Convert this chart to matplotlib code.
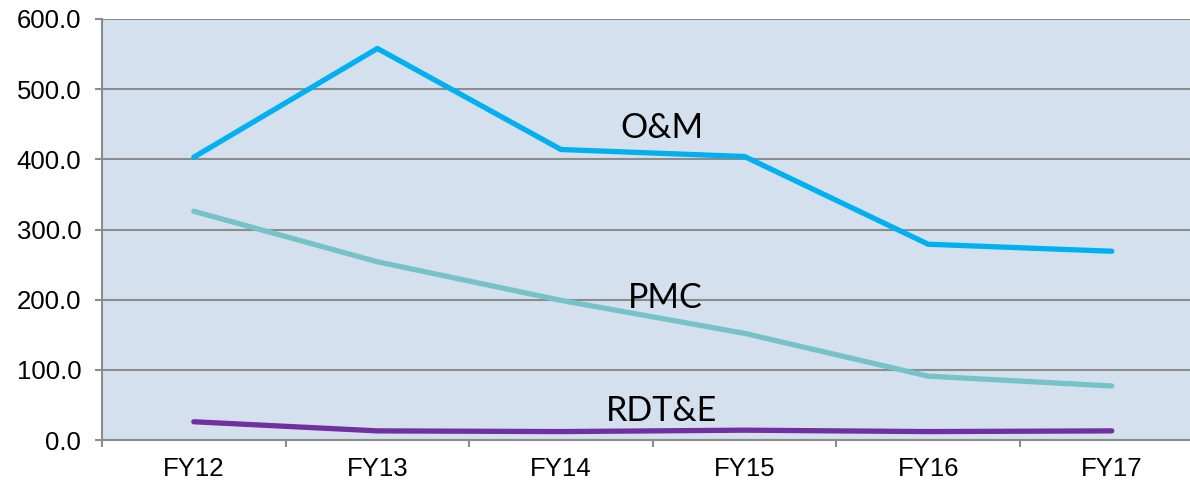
import matplotlib
matplotlib.use("Agg")
import matplotlib.pyplot as plt
import numpy as np

categories = ["FY12", "FY13", "FY14", "FY15", "FY16", "FY17"]
om = [403, 558, 414, 404, 279, 269]
pmc = [326, 254, 199, 152, 91, 77]
rdte = [26, 13, 12, 14, 12, 13]
yticks = [0, 100, 200, 300, 400, 500, 600]

W, H = 1190, 487
fig = plt.figure(figsize=(W / 100, H / 100), dpi=100)
left, right, top, bottom = 102, 1203.6, 19, 440
ax = fig.add_axes([left / W, 1 - bottom / H, (right - left) / W, (bottom - top) / H])
ax.set_facecolor("#D5E0EE")

x = np.arange(len(categories))
ax.plot(x, om, color="#00B0F0", lw=3.8, solid_capstyle="round", zorder=3)
ax.plot(x, pmc, color="#76C3C7", lw=3.8, solid_capstyle="round", zorder=3)
ax.plot(x, rdte, color="#7030A0", lw=3.8, solid_capstyle="round", zorder=3)

ax.set_xlim(-0.5, 5.5)
ax.set_ylim(0, 600)
ax.set_yticks(yticks)
ax.set_yticklabels([f"{v:.1f}" for v in yticks], fontsize=18.5, family="Liberation Sans")
ax.yaxis.grid(True, color="#8C8C8C", lw=1.5)
ax.set_axisbelow(True)
ax.set_xticks(x)
ax.set_xticklabels(categories, fontsize=18.5, family="Liberation Sans")
ax.tick_params(axis="x", length=0, pad=12)
ax.set_xticks(np.arange(-0.5, 6, 1), minor=True)
ax.tick_params(axis="x", which="minor", length=5, color="#8C8C8C", width=1.5)
ax.tick_params(axis="y", length=5, color="#8C8C8C", width=1.5, pad=10)
for s in ["top", "right"]:
    ax.spines[s].set_visible(False)
for s in ["left", "bottom"]:
    ax.spines[s].set_color("#8C8C8C")
    ax.spines[s].set_linewidth(1.5)

lab = dict(fontsize=24.5, family="Lato", ha="center", va="center", color="black", zorder=4)
ax.text(2.55, 444, "O&M", **lab)
ax.text(2.57, 202, "PMC", **lab)
ax.text(2.55, 41, "RDT&E", **lab)

fig.savefig("out.png", dpi=100)
